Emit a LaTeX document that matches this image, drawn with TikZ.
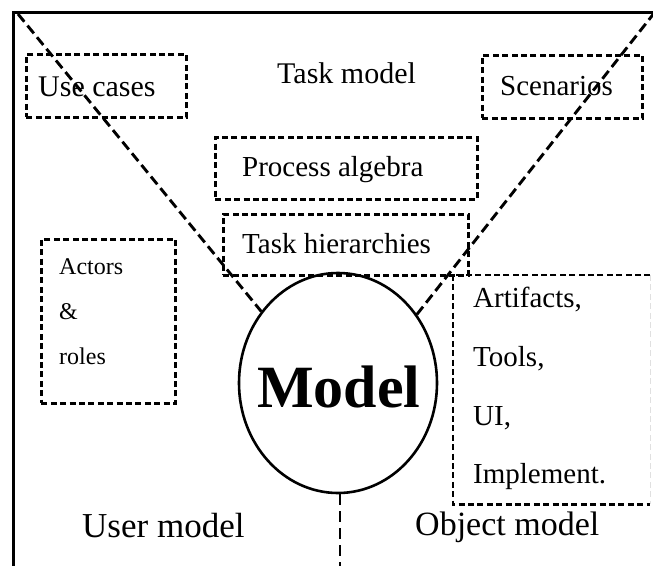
\documentclass[tikz,border=0pt]{standalone}
\usepackage{fontspec}
\setmainfont{Liberation Serif}
\usetikzlibrary{shapes.geometric}
\begin{document}
\begin{tikzpicture}[x=1pt,y=-1pt,
  boxline/.style={line width=2.8pt, dash pattern=on 6pt off 3.4pt},
  dbox/.style={draw, boxline, anchor=north west, inner sep=0pt},
  diag/.style={line width=2.9pt, dash pattern=on 10pt off 5pt},
  vline/.style={line width=2.2pt, dash pattern=on 11pt off 6pt},
  frameline/.style={line width=3pt},
  lbl/.style={inner sep=0pt, anchor=base west, font=\fontsize{29}{34}\selectfont},
  small/.style={inner sep=0pt, anchor=base west, font=\fontsize{24}{28}\selectfont},
  big/.style={inner sep=0pt, anchor=base west, font=\fontsize{35}{40}\selectfont}]
\useasboundingbox (0,0) rectangle (653,565);
% frame
\coordinate (fbl) at (13,567);
\coordinate (ftl) at (13,12);
\coordinate (ftr) at (655,12);
\draw[frameline] (fbl) -- (ftl) -- (ftr);
% boxes
\node[dbox, minimum width=160pt, minimum height=63pt] (uc) at (25,53) {};
\node[dbox, minimum width=160pt, minimum height=63pt] (sc) at (481,54) {};
\node[dbox, minimum width=262pt, minimum height=62pt] (pa) at (214,136) {};
\node[dbox, minimum width=245pt, minimum height=61pt] (th) at (222,213) {};
\node[dbox, minimum width=134pt, minimum height=164pt] (ar) at (40,238) {};
\node[anchor=north west, inner sep=0pt, minimum width=197pt, minimum height=229pt] (af) at (453,275) {};
\draw[boxline] (af.north east) -- (af.north west) -- (af.south west) -- (af.south east);
\draw[boxline, line width=1.5pt, black!12] (af.north east) -- (af.south east);
% model
\node[draw, ellipse, line width=2.6pt, minimum width=198pt, minimum height=220pt, inner sep=0pt] (model) at (338,383) {};
\node[inner sep=0pt, anchor=base, font=\fontsize{60}{66}\selectfont\bfseries] (modelT) at (339,407) {Model};
% connectors
\coordinate (tl) at (18,14);
\coordinate (tr) at (655,12);
\coordinate (bot) at (341,567);
\draw[diag] (tl) -- (model.137);
\draw[diag] (tr) -- (model.41);
\draw[vline] (model.271) -- (model.271 |- bot);
% texts
\node[lbl, font=\fontsize{30}{34}\selectfont] (ucT) at (38,96) {Use cases};
\node[lbl, font=\fontsize{30}{34}\selectfont] (tmT) at (277,83) {Task model};
\node[lbl] (scT) at (500,95) {Scenarios};
\node[lbl] (paT) at (242,176) {Process algebra};
\node[lbl] (thT) at (242,253) {Task hierarchies};
\node[small] (a1) at (59,274) {Actors};
\node[small] (a2) at (59,319) {\&};
\node[small] (a3) at (59,364) {roles};
\node[lbl] (f1) at (473,307) {Artifacts,};
\node[lbl] (f2) at (473,366) {Tools,};
\node[lbl] (f3) at (473,425) {UI,};
\node[lbl] (f4) at (473,483) {Implement.};
\node[big] (um) at (82,537) {User model};
\node[big, font=\fontsize{34}{40}\selectfont] (om) at (415,535) {Object model};
\end{tikzpicture}
\end{document}
